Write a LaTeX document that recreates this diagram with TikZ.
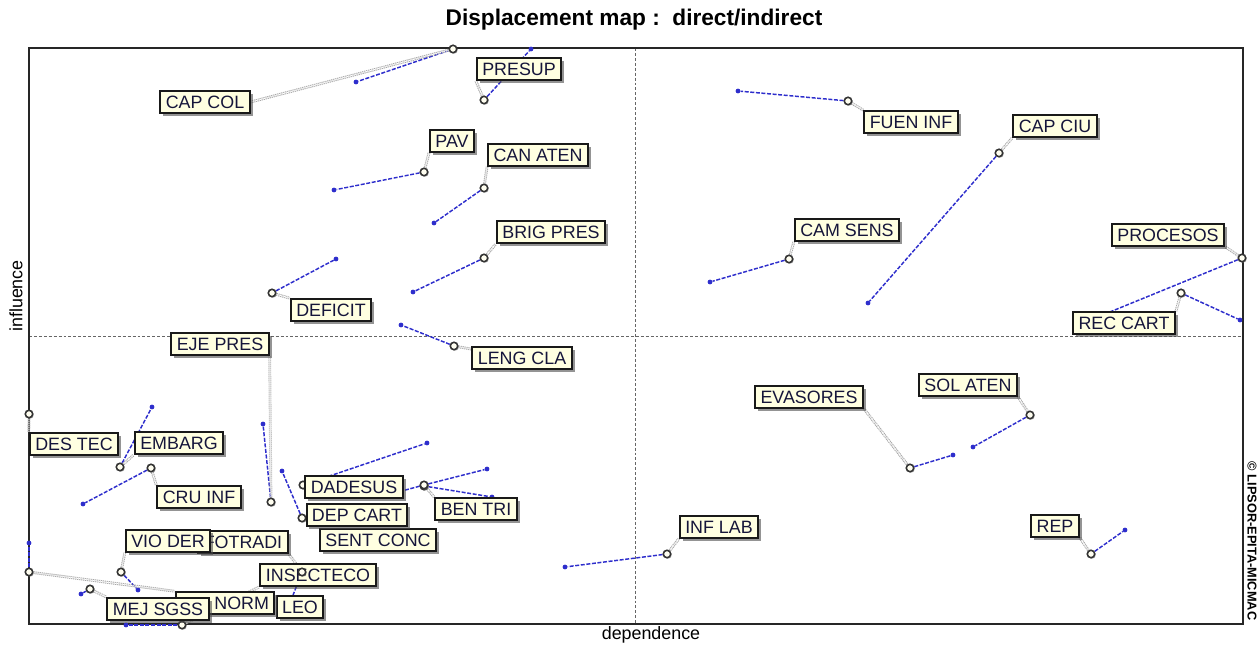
\documentclass[tikz,border=0pt]{standalone}
\usepackage{fontspec}
\setmainfont{Liberation Sans}
\usetikzlibrary{shadows}
\definecolor{ivory}{HTML}{FFFFE1}
\definecolor{labtxt}{HTML}{15153A}
\definecolor{mblue}{HTML}{2E2ECC}
\pgfdeclarelayer{bg}
\pgfdeclarelayer{bl}
\pgfdeclarelayer{ld}
\pgfdeclarelayer{cr}
\pgfdeclarelayer{top}
\pgfsetlayers{bg,bl,ld,cr,main,top}
\begin{document}
\begin{tikzpicture}[x=0.75pt,y=-0.75pt,
  lab/.style={draw=black!90, line width=1.5pt, fill=ivory, text=labtxt,
    font=\fontsize{13.4}{14}\selectfont, inner xsep=4.1pt, inner ysep=3.3pt,
    text height=9.6pt, text depth=0pt,
    drop shadow={shadow xshift=2.2pt, shadow yshift=-2.2pt, fill=black!70, opacity=0.6}},
  cir/.style={circle, draw=black!80, fill=yellow!6, line width=1.2pt, minimum size=5.6pt, inner sep=0pt,
    drop shadow={shadow xshift=0.8pt, shadow yshift=-0.8pt, fill=black!50, opacity=0.5}},
  bdot/.style={circle, fill=mblue, inner sep=0pt, minimum size=3.6pt},
  bline/.style={draw=mblue, line width=1.1pt, dash pattern=on 3pt off 1.2pt},
  lead/.style={draw=gray!70, line width=0.7pt, double=white, double distance=0.7pt, dash pattern=on 0.9pt off 0.6pt},
  axis/.style={draw=gray!80!black, line width=0.6pt, dash pattern=on 2.2pt off 1.5pt},
  frame/.style={draw=black!85, line width=1.3pt}]
\useasboundingbox (0,0) rectangle (1260,645);

% ---------- frame, axes, texts
\begin{pgfonlayer}{bg}
\coordinate (tl) at (29,48);
\coordinate (br) at (1243,624);
\coordinate (vt) at (635,48);
\coordinate (vb) at (635,624);
\coordinate (hl) at (29,336);
\coordinate (hr) at (1243,336);
\draw[axis] (vt) -- (vb);
\draw[axis] (hl) -- (hr);
\draw[frame] (tl) rectangle (br);
\end{pgfonlayer}
\node[font=\fontsize{17}{18}\selectfont\bfseries, anchor=base] (title) at (634,26) {Displacement map :\ \ direct/indirect};
\node[font=\fontsize{13.4}{14}\selectfont, rotate=90] (yl) at (16,296) {influence};
\node[font=\fontsize{13.4}{14}\selectfont] (xl) at (651,635) {dependence};
\node[font=\fontsize{9.6}{10}\selectfont\bfseries, rotate=-90] (copy) at (1252,541) {© LIPSOR-EPITA-MICMAC};

% ---------- labels (main layer, drawing order matters)
\node[lab] (capcol) at (205,102) {CAP COL};
\node[lab] (presup) at (519,69) {PRESUP};
\node[lab] (pav) at (452,141) {PAV};
\node[lab] (canaten) at (538,155) {CAN ATEN};
\node[lab] (brigpres) at (551,232) {BRIG PRES};
\node[lab] (deficit) at (331,310) {DEFICIT};
\node[lab] (lengcla) at (522,358) {LENG CLA};
\node[lab] (ejepres) at (220,344) {EJE PRES};
\node[lab] (destec) at (74,444) {DES TEC};
\node[lab] (embarg) at (179,443) {EMBARG};
\node[lab] (cruinf) at (199,497) {CRU INF};
\node[lab] (sentconc) at (378,540) {SENT CONC};
\node[lab] (dadesus) at (354,487) {DADESUS};
\node[lab] (depcart) at (357,515) {DEP CART};
\node[lab] (bentri) at (476,509) {BEN TRI};
\node[lab] (fotradi) at (243,542) {FOTRADI};
\node[lab] (viode) at (168,541) {VIO DER};
\node[lab] (leo) at (300,607) {LEO};
\node[lab] (insecteco) at (318,575) {INSECTECO};
\node[lab, text width=66pt, align=right] (norm) at (225,603) {NORM};
\node[lab] (mejsgss) at (158,609) {MEJ SGSS};
\node[lab] (fueninf) at (911,122) {FUEN INF};
\node[lab] (capciu) at (1055,126) {CAP CIU};
\node[lab] (camsens) at (847,230) {CAM SENS};
\node[lab] (procesos) at (1168,235) {PROCESOS};
\node[lab] (reccart) at (1124,323) {REC CART};
\node[lab] (solaten) at (968,385) {SOL ATEN};
\node[lab] (evasores) at (809,397) {EVASORES};
\node[lab] (inflab) at (719,527) {INF LAB};
\node[lab] (rep) at (1055,526) {REP};

% ---------- circles (direct positions)
\begin{pgfonlayer}{cr}
\node[cir] (o-capcol) at (453,49) {};
\node[cir] (o-presup) at (484,100) {};
\node[cir] (o-pav) at (424,172) {};
\node[cir] (o-canaten) at (484,188) {};
\node[cir] (o-brigpres) at (484,258) {};
\node[cir] (o-deficit) at (272,293) {};
\node[cir] (o-lengcla) at (454,346) {};
\node[cir] (o-ejepres) at (271,502) {};
\node[cir] (o-destec) at (29,414) {};
\node[cir] (o-embarg) at (120,467) {};
\node[cir] (o-cruinf) at (151,468) {};
\node[cir] (o-dadesus) at (303,485) {};
\node[cir] (o-depcart) at (302,518) {};
\node[cir] (o-sentconc) at (424,486) {};
\node[cir] (o-bentri) at (424,485) {};
\node[cir] (o-viode) at (121,572) {};
\node[cir] (o-insecteco) at (182,625) {};
\node[cir] (o-norm) at (29,572) {};
\node[cir] (o-mejsgss) at (90,589) {};
\node[cir] (o-fueninf) at (848,101) {};
\node[cir] (o-capciu) at (999,153) {};
\node[cir] (o-camsens) at (789,259) {};
\node[cir] (o-procesos) at (1242,258) {};
\node[cir] (o-reccart) at (1181,293) {};
\node[cir] (o-solaten) at (1030,415) {};
\node[cir] (o-evasores) at (910,468) {};
\node[cir] (o-inflab) at (667,554) {};
\node[cir] (o-rep) at (1091,554) {};
\end{pgfonlayer}
\begin{pgfonlayer}{top}
\node[cir] (o-fotradi) at (302,572) {};
\end{pgfonlayer}

% ---------- indirect positions and displacement lines
\begin{pgfonlayer}{bl}
\node[bdot] (d-capcol) at (356,82) {};
\node[bdot] (d-presup) at (531,49) {};
\node[bdot] (d-pav) at (334,190) {};
\node[bdot] (d-canaten) at (434,223) {};
\node[bdot] (d-brigpres) at (413,292) {};
\node[bdot] (d-deficit) at (336,259) {};
\node[bdot] (d-lengcla) at (401,325) {};
\node[bdot] (d-ejepres) at (263,424) {};
\node[bdot] (d-embarg) at (152,407) {};
\node[bdot] (d-cruinf) at (83,504) {};
\node[bdot] (d-dadesus) at (427,443) {};
\node[bdot] (d-depcart) at (282,471) {};
\node[bdot] (d-sentconc) at (492,497) {};
\node[bdot] (d-bentri) at (487,469) {};
\node[bdot] (d-viode) at (138,590) {};
\node[bdot] (d-fotradi) at (290,603) {};
\node[bdot] (d-insecteco) at (126,625) {};
\node[bdot] (d-norm) at (29,543) {};
\node[bdot] (d-mejsgss) at (81,594) {};
\node[bdot] (d-fueninf) at (738,91) {};
\node[bdot] (d-capciu) at (868,303) {};
\node[bdot] (d-camsens) at (710,282) {};
\node[bdot] (d-procesos) at (1100,316) {};
\node[bdot] (d-reccart) at (1240,320) {};
\node[bdot] (d-solaten) at (973,447) {};
\node[bdot] (d-evasores) at (953,455) {};
\node[bdot] (d-inflab) at (565,567) {};
\node[bdot] (d-rep) at (1125,530) {};
\coordinate (hid-a) at (398,492);
\foreach \n in {capcol,presup,pav,canaten,brigpres,deficit,lengcla,ejepres,embarg,cruinf,dadesus,depcart,sentconc,bentri,viode,fotradi,insecteco,norm,mejsgss,fueninf,capciu,camsens,procesos,reccart,solaten,evasores,inflab,rep}
  {\draw[bline] (o-\n) -- (d-\n);}
\draw[bline] (o-bentri) -- (hid-a);
\end{pgfonlayer}

% ---------- leaders from direct position to label
\begin{pgfonlayer}{ld}
\draw[lead] (o-capcol) -- (capcol.east);
\draw[lead] (o-presup) -- (presup.south west);
\draw[lead] (o-pav) -- (pav.south west);
\draw[lead] (o-canaten) -- (canaten.south west);
\draw[lead] (o-brigpres) -- (brigpres.south west);
\draw[lead] (o-deficit) -- (deficit.north west);
\draw[lead] (o-lengcla) -- (lengcla);
\draw[lead] (o-ejepres) -- (ejepres.south east);
\draw[lead] (o-destec) -- (destec.north west);
\draw[lead] (o-embarg) -- (embarg.south west);
\draw[lead] (o-cruinf) -- (cruinf.north west);
\draw[lead] (o-dadesus) -- (dadesus);
\draw[lead] (o-depcart) -- (depcart);
\draw[lead] (o-bentri) -- (bentri.north west);
\draw[lead] (o-viode) -- (viode.south west);
\draw[lead] (o-fotradi) -- (fotradi.south east);
\draw[lead] (o-insecteco) -- (insecteco.south west);
\draw[lead] (o-norm) -- (norm.north west);
\draw[lead] (o-mejsgss) -- (mejsgss.north west);
\draw[lead] (o-fueninf) -- (fueninf.north west);
\draw[lead] (o-capciu) -- (capciu.south west);
\draw[lead] (o-camsens) -- (camsens.south west);
\draw[lead] (o-procesos) -- (procesos.south east);
\draw[lead] (o-reccart) -- (reccart.north east);
\draw[lead] (o-solaten) -- (solaten.south east);
\draw[lead] (o-evasores) -- (evasores.south east);
\draw[lead] (o-inflab) -- (inflab.south west);
\draw[lead] (o-rep) -- (rep.south east);
\end{pgfonlayer}
\end{tikzpicture}
\end{document}
